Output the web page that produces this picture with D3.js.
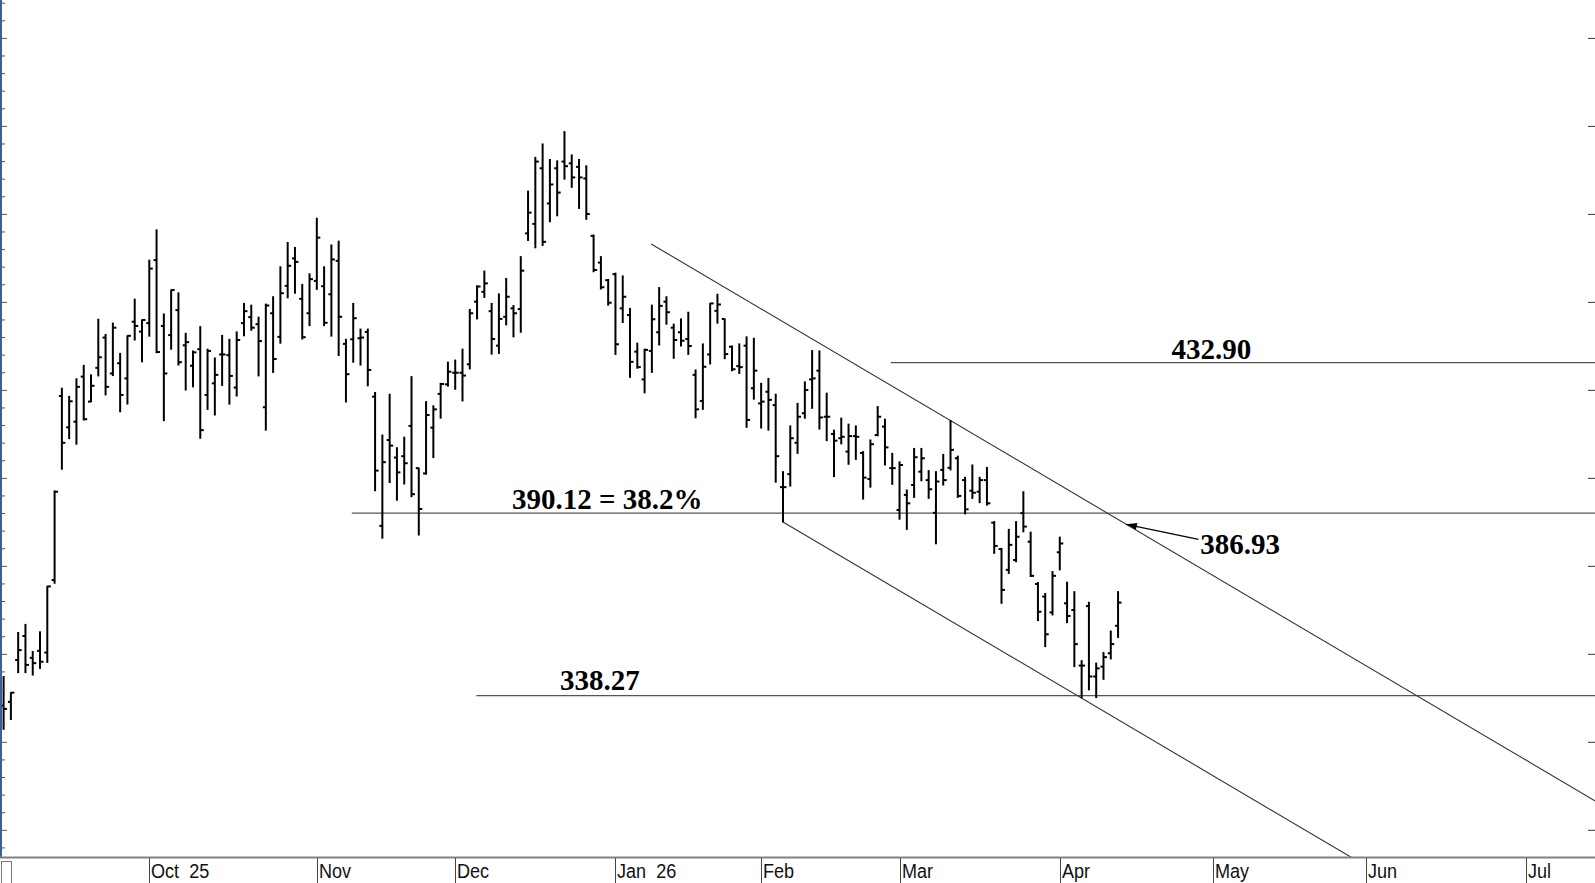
<!DOCTYPE html>
<html>
<head>
<meta charset="utf-8">
<script src="https://cdn.jsdelivr.net/npm/d3@7"></script>
<style>
html,body{margin:0;padding:0;background:#fff;overflow:hidden;}
svg{display:block;}
</style>
</head>
<body>
<svg id="chart" width="1595" height="883"></svg>
<script>
// ---- DATA (trading-day index = position in arrays) ----
const opens  = [335.4,336.5,348.4,355.2,349.0,351.0,350.5,371.1,423.4,414.5,416.1,428.9,421.8,431.4,440.0,429.8,432.7,428.4,444.5,441.7,
444.1,462.0,443.3,440.7,447.8,437.8,432.0,436.7,423.7,427.0,435.2,435.0,425.8,444.1,445.8,443.8,420.2,446.9,440.2,454.7,
462.5,451.0,446.9,456.1,454.6,452.3,461.8,438.2,439.5,439.8,441.6,423.2,386.5,410.9,405.9,406.3,414.9,402.9,401.4,414.4,
424.0,426.7,430.0,430.0,432.4,450.2,453.0,447.5,437.7,445.9,448.3,448.1,469.6,472.3,488.1,478.1,488.1,490.0,489.5,488.5,
485.2,468.9,461.3,456.3,458.0,448.3,446.4,436.0,428.1,436.2,441.5,450.2,442.8,441.5,439.6,429.4,422.0,435.2,447.6,445.3,
437.4,431.9,437.7,425.6,421.3,424.6,420.8,397.5,401.2,410.1,418.5,428.1,430.6,417.5,412.6,411.4,407.6,412.0,407.2,399.8,
412.3,414.7,402.9,391.0,395.3,398.1,401.9,399.5,390.2,402.4,403.0,405.7,399.5,396.5,396.2,399.5,387.4,379.9,374.0,376.8,
390.1,382.0,370.0,366.4,361.9,379.0,364.5,362.6,346.8,363.7,343.7,346.5,350.3,358.1];
const highs  = [343.7,339.1,356.2,358.5,350.8,356.4,369.3,396.4,425.6,423.3,428.3,432.1,429.4,445.2,440.9,444.1,435.5,440.5,450.9,445.0,
462.0,470.6,446.7,453.5,452.7,441.2,436.2,443.1,436.7,434.2,440.6,439.5,441.6,449.7,449.2,445.8,449.5,451.6,460.1,467.0,
465.6,455.1,458.1,473.9,460.1,466.3,467.4,439.5,449.7,442.4,442.4,424.4,412.3,423.9,408.7,411.7,428.9,402.9,421.8,420.6,
427.0,433.0,433.6,436.7,448.0,454.7,458.9,449.7,452.4,456.8,449.1,463.0,481.6,491.2,495.0,490.6,490.2,498.5,491.9,490.6,
488.8,469.1,463.0,456.5,458.3,457.5,448.3,438.4,436.7,449.2,454.2,451.6,443.8,445.3,447.2,430.8,438.2,449.7,452.3,445.3,
437.6,438.2,440.2,439.8,427.0,428.4,423.9,401.9,414.9,421.3,427.4,436.3,436.2,424.2,413.7,417.1,415.4,414.9,407.6,410.9,
420.4,416.8,407.1,404.7,396.7,408.5,408.5,402.2,401.9,406.8,416.4,406.3,400.3,403.8,400.3,403.1,387.7,380.1,385.5,387.7,
396.2,384.7,370.4,367.3,373.5,383.3,370.5,367.8,348.2,364.8,347.5,350.5,356.6,367.8];
const lows   = [328.7,331.5,344.8,344.8,344.1,346.0,347.7,370.2,402.6,411.3,409.7,416.6,421.8,429.1,423.7,429.2,418.9,421.1,439.3,433.1,
440.4,435.7,416.4,436.7,432.2,425.1,426.0,411.4,419.6,418.0,426.4,421.1,423.4,440.5,442.1,429.1,413.7,430.1,438.4,451.3,
452.6,439.6,443.4,453.7,443.4,440.4,434.9,421.7,433.0,432.2,426.3,396.5,383.0,398.8,393.8,398.4,394.8,383.9,401.2,405.9,
417.1,426.2,425.3,422.0,431.1,445.3,451.4,435.3,435.5,443.6,440.2,441.5,467.6,465.5,466.2,472.9,474.6,485.0,482.7,476.7,
473.6,458.7,453.8,449.2,435.2,444.3,428.7,431.3,424.3,430.1,437.9,443.8,434.1,437.6,435.2,417.2,419.6,432.5,444.1,434.0,
430.6,429.8,414.5,422.5,414.3,413.7,398.9,387.6,397.8,407.1,417.1,419.9,414.0,410.7,400.5,409.8,404.0,405.4,394.1,397.5,
412.1,403.8,398.3,388.4,385.5,394.6,399.3,394.3,381.4,398.1,402.4,394.6,389.9,394.3,393.1,392.4,378.7,364.5,373.0,376.3,
384.8,372.1,359.6,352.2,361.2,374.0,359.0,346.5,337.7,339.9,337.7,342.9,348.7,354.8];
const closes = [334.5,339.1,351.2,347.0,347.5,347.9,369.3,396.2,410.1,421.9,426.0,416.8,426.3,434.4,426.0,442.8,423.7,440.5,443.3,445.0,
459.6,435.9,429.8,453.5,433.0,438.7,435.8,413.7,436.2,429.4,435.2,429.1,439.3,447.5,442.8,439.0,449.1,433.9,452.6,460.4,
461.5,440.1,456.6,468.4,444.2,462.2,445.9,429.6,445.5,440.0,430.8,402.2,404.6,409.3,401.7,404.3,395.5,391.3,418.0,419.6,
426.8,430.3,430.0,429.2,446.9,454.5,455.4,439.6,445.3,451.6,446.9,459.0,475.5,490.0,467.2,483.5,481.2,488.7,485.5,485.5,
475.1,459.2,454.3,449.9,438.1,451.6,433.1,431.6,436.5,445.2,449.0,447.2,439.3,439.1,437.6,419.6,431.7,449.7,449.4,435.3,
431.0,431.6,416.6,430.6,421.8,422.3,406.3,397.5,411.4,417.5,425.1,428.4,417.3,417.5,410.7,411.8,412.0,411.8,400.2,409.7,
417.5,408.8,402.9,403.8,392.9,406.0,405.7,396.9,399.1,399.5,408.1,395.0,391.2,395.9,399.5,392.9,380.8,368.3,381.1,383.4,
386.3,372.3,362.1,355.7,372.3,381.5,360.9,352.9,346.8,343.7,346.0,349.2,352.9,364.7];

const monthLabels = ["Oct 25","Nov","Dec","Jan 26","Feb","Mar","Apr","May","Jun","Jul"];
const monthStart  = [20, 43, 62, 84, 104, 123, 145, 166, 187, 209];

const priceTicks = [300, 325, 350, 375, 400, 425, 450, 475, 500, 525];

// horizontal levels: [value, start index]
const levelValues = [432.90, 390.12, 338.27];
const levelStart  = [121.8, 47.8, 64.9];

// channel lines [index, price]
const upperChannel = [[88.9, 466.6], [230, 294.3]];
const lowerChannel = [[107, 387.6], [230, 237.4]];
const arrowTip = [154.15, 386.93];

// ---- DRAW ----
const W = 1595, H = 883, plotBottom = 857;
const svg = d3.select("#chart");
const x = d3.scaleLinear().domain([0, 210]).range([3.6, 3.6 + 7.284 * 210]);
const y = d3.scaleLinear().domain([300, 525]).range([830.3, 38.4]);

svg.append("rect").attr("width", W).attr("height", H).attr("fill", "#fff");

svg.append("defs").append("clipPath").attr("id", "plotclip")
  .append("rect").attr("x", 0).attr("y", 0).attr("width", W).attr("height", plotBottom);

const plot = svg.append("g").attr("clip-path", "url(#plotclip)");

// horizontal levels
levelValues.forEach((v, k) => {
  plot.append("line")
    .attr("x1", x(levelStart[k])).attr("x2", W)
    .attr("y1", y(v)).attr("y2", y(v))
    .attr("stroke", "#555").attr("stroke-width", 1.3);
});

// channel lines
const lineGen = d3.line().x(d => x(d[0])).y(d => y(d[1]));
[upperChannel, lowerChannel].forEach(c => {
  plot.append("path").attr("d", lineGen(c))
    .attr("fill", "none").attr("stroke", "#333").attr("stroke-width", 1.1);
});

// OHLC bars
const bars = plot.append("g").attr("stroke", "#000").attr("stroke-width", 2);
opens.forEach((o, i) => {
  const cx = x(i);
  bars.append("line").attr("x1", cx).attr("x2", cx)
    .attr("y1", y(highs[i]) - 0.5).attr("y2", y(lows[i]) + 0.5);
  bars.append("line").attr("x1", cx - 3).attr("x2", cx)
    .attr("y1", y(o)).attr("y2", y(o));
  bars.append("line").attr("x1", cx).attr("x2", cx + 3.5)
    .attr("y1", y(closes[i])).attr("y2", y(closes[i]));
});

// labels
const lblFont = "'Liberation Serif','Times New Roman',serif";
function lbl(txt, px, py, anchor) {
  svg.append("text").text(txt).attr("x", px).attr("y", py)
    .attr("text-anchor", anchor || "start")
    .attr("font-family", lblFont).attr("font-weight", "bold")
    .attr("font-size", 29).attr("fill", "#000");
}
lbl("432.90", x(165.8), y(levelValues[0]) - 4, "middle");
lbl("390.12 = 38.2%", x(69.8), y(levelValues[1]) - 4);
lbl("338.27", x(76.4), y(levelValues[2]) - 6);
lbl("386.93", x(164.3), y(arrowTip[1]) + 30);

// arrow
const tipX = x(arrowTip[0]), tipY = y(arrowTip[1]);
const tailX = tipX + 72, tailY = tipY + 15;
svg.append("line").attr("x1", tailX).attr("y1", tailY).attr("x2", tipX).attr("y2", tipY)
  .attr("stroke", "#000").attr("stroke-width", 1.2);
const ang = Math.atan2(tailY - tipY, tailX - tipX);
const ah = 11, aw = 0.32;
svg.append("path")
  .attr("d", `M${tipX},${tipY} L${tipX + ah * Math.cos(ang + aw)},${tipY + ah * Math.sin(ang + aw)} L${tipX + ah * Math.cos(ang - aw)},${tipY + ah * Math.sin(ang - aw)} Z`)
  .attr("fill", "#000");

// left axis
svg.append("line").attr("x1", 1).attr("x2", 1).attr("y1", 0).attr("y2", plotBottom)
  .attr("stroke", "#3d5f91").attr("stroke-width", 2);
const minorTicks = d3.range(295, 540, 5);
svg.append("g").selectAll("line").data(minorTicks).join("line")
  .attr("x1", 2).attr("x2", d => (d % 25 === 0 ? 7 : 5))
  .attr("y1", d => y(d)).attr("y2", d => y(d))
  .attr("stroke", "#555").attr("stroke-width", 1);

// right ticks
svg.append("g").selectAll("line").data(priceTicks).join("line")
  .attr("x1", W - 7).attr("x2", W)
  .attr("y1", d => y(d)).attr("y2", d => y(d))
  .attr("stroke", "#333").attr("stroke-width", 1);

// bottom axis
svg.append("line").attr("x1", 0).attr("x2", W).attr("y1", plotBottom + 0.5).attr("y2", plotBottom + 0.5)
  .attr("stroke", "#808080").attr("stroke-width", 2);
svg.append("rect").attr("x", 1.5).attr("y", 861.5).attr("width", 10).attr("height", 22)
  .attr("fill", "none").attr("stroke", "#777").attr("stroke-width", 1);

const mg = svg.append("g");
monthStart.forEach((mi, k) => {
  const mx = Math.round(x(mi)) + 0.5;
  mg.append("line").attr("x1", mx).attr("x2", mx).attr("y1", plotBottom + 1).attr("y2", H)
    .attr("stroke", "#444").attr("stroke-width", 1);
  mg.append("text").text(monthLabels[k])
    .attr("transform", `translate(${mx + 1.5},878) scale(0.86,1)`)
    .attr("font-family", "'Liberation Sans Narrow','Arial Narrow',sans-serif")
    .attr("font-size", 21).attr("word-spacing", 6).attr("fill", "#111");
});
</script>
</body>
</html>
